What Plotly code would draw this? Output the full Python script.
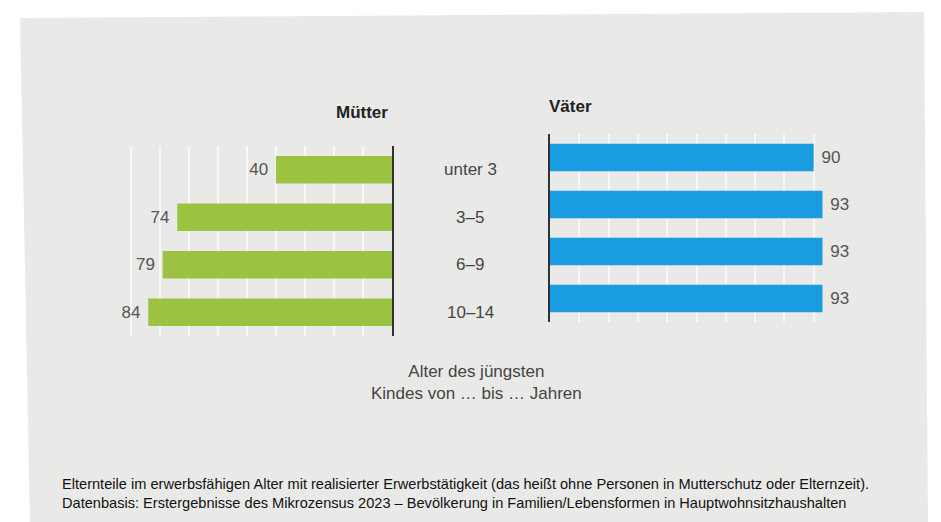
import plotly.graph_objects as go

# ---- data ----
categories = ["unter 3", "3–5", "6–9", "10–14"]
muetter = [40, 74, 79, 84]
vaeter = [90, 93, 93, 93]
title_left = "Mütter"
title_right = "Väter"
axis_caption = ["Alter des jüngsten", "Kindes von … bis … Jahren"]
footnote = [
    "Elternteile im erwerbsfähigen Alter mit realisierter Erwerbstätigkeit (das heißt ohne Personen in Mutterschutz oder Elternzeit).",
    "Datenbasis: Erstergebnisse des Mikrozensus 2023 – Bevölkerung in Familien/Lebensformen in Hauptwohnsitzhaushalten",
]

# the page body has an 8px margin; the figure fills the rest of the window
OFF = 8
W, H = 941 - OFF, 522 - OFF
FONT = "Liberation Sans, Arial, Helvetica, sans-serif"
GREEN = "#9cc242"
BLUE = "#1a9ce0"
PANEL = "#e9e9e8"
GRID = "#f7f7f7"
NBSP = "\u00a0"


def px(x):
    return (x - OFF) / W


def py(y):
    return 1 - (y - OFF) / H


fig = go.Figure()

fig.add_trace(go.Bar(
    x=muetter, y=categories, orientation="h", xaxis="x", yaxis="y",
    marker=dict(color=GREEN, line=dict(width=0)), width=0.58,
    text=[str(v) + NBSP for v in muetter], textposition="outside", cliponaxis=False,
    textfont=dict(size=17, color="#555555", family=FONT),
    hoverinfo="skip", showlegend=False,
))
fig.add_trace(go.Bar(
    x=vaeter, y=categories, orientation="h", xaxis="x2", yaxis="y2",
    marker=dict(color=BLUE, line=dict(width=0)), width=0.58,
    text=[NBSP + str(v) for v in vaeter], textposition="outside", cliponaxis=False,
    textfont=dict(size=17, color="#555555", family=FONT),
    hoverinfo="skip", showlegend=False,
))

annotations = []
for c in categories:
    annotations.append(dict(
        x=px(470), xref="paper", y=c, yref="y", text=c, showarrow=False,
        xanchor="center", yanchor="middle",
        font=dict(size=17, color="#454545", family=FONT),
    ))
annotations.append(dict(
    x=px(390), y=py(113), xref="paper", yref="paper", text="<b>%s</b>" % title_left,
    showarrow=False, xanchor="right", yanchor="middle",
    font=dict(size=17, color="#222222", family=FONT),
))
annotations.append(dict(
    x=px(547), y=py(107), xref="paper", yref="paper", text="<b>%s</b>" % title_right,
    showarrow=False, xanchor="left", yanchor="middle",
    font=dict(size=17, color="#222222", family=FONT),
))
annotations.append(dict(
    x=px(476), y=py(382), xref="paper", yref="paper", text="<br>".join(axis_caption),
    showarrow=False, xanchor="center", yanchor="middle", align="center",
    font=dict(size=17, color="#444444", family=FONT),
))
annotations.append(dict(
    x=px(60), y=py(493), xref="paper", yref="paper", text="<br>".join(footnote),
    showarrow=False, xanchor="left", yanchor="middle", align="left",
    font=dict(size=14.6, color="#111111", family=FONT),
))

# grey panel (slightly tilted like the photographed original)
panel_path = "M %f %f L %f %f L %f %f L %f %f Z" % (
    px(20), py(18), px(924), py(12), px(928), py(522), px(30), py(522))

fig.update_layout(
    width=W, height=H, autosize=False,
    margin=dict(l=0, r=0, t=0, b=0),
    paper_bgcolor="white", plot_bgcolor="rgba(0,0,0,0)",
    font=dict(family=FONT),
    shapes=[dict(type="path", path=panel_path, xref="paper", yref="paper",
                 fillcolor=PANEL, line=dict(width=0), layer="below")],
    annotations=annotations,
    xaxis=dict(domain=[px(125), px(392)], range=[92, 0], anchor="y",
               showticklabels=False, ticks="", dtick=10, tick0=0,
               showgrid=True, gridcolor=GRID, gridwidth=1.5, zeroline=False,
               showline=False),
    yaxis=dict(domain=[py(336), py(146)], anchor="x", autorange="reversed",
               showticklabels=False, ticks="", showgrid=False, zeroline=False,
               showline=True, side="right", linecolor="#333333", linewidth=1.5),
    xaxis2=dict(domain=[px(550), px(843)], range=[0, 100], anchor="y2",
                showticklabels=False, ticks="", dtick=10, tick0=0,
                showgrid=True, gridcolor=GRID, gridwidth=1.5, zeroline=False,
                showline=False),
    yaxis2=dict(domain=[py(322), py(134)], anchor="x2", autorange="reversed",
                showticklabels=False, ticks="", showgrid=False, zeroline=False,
                showline=True, side="left", linecolor="#333333", linewidth=1.5),
)

fig.write_html("out.html")
